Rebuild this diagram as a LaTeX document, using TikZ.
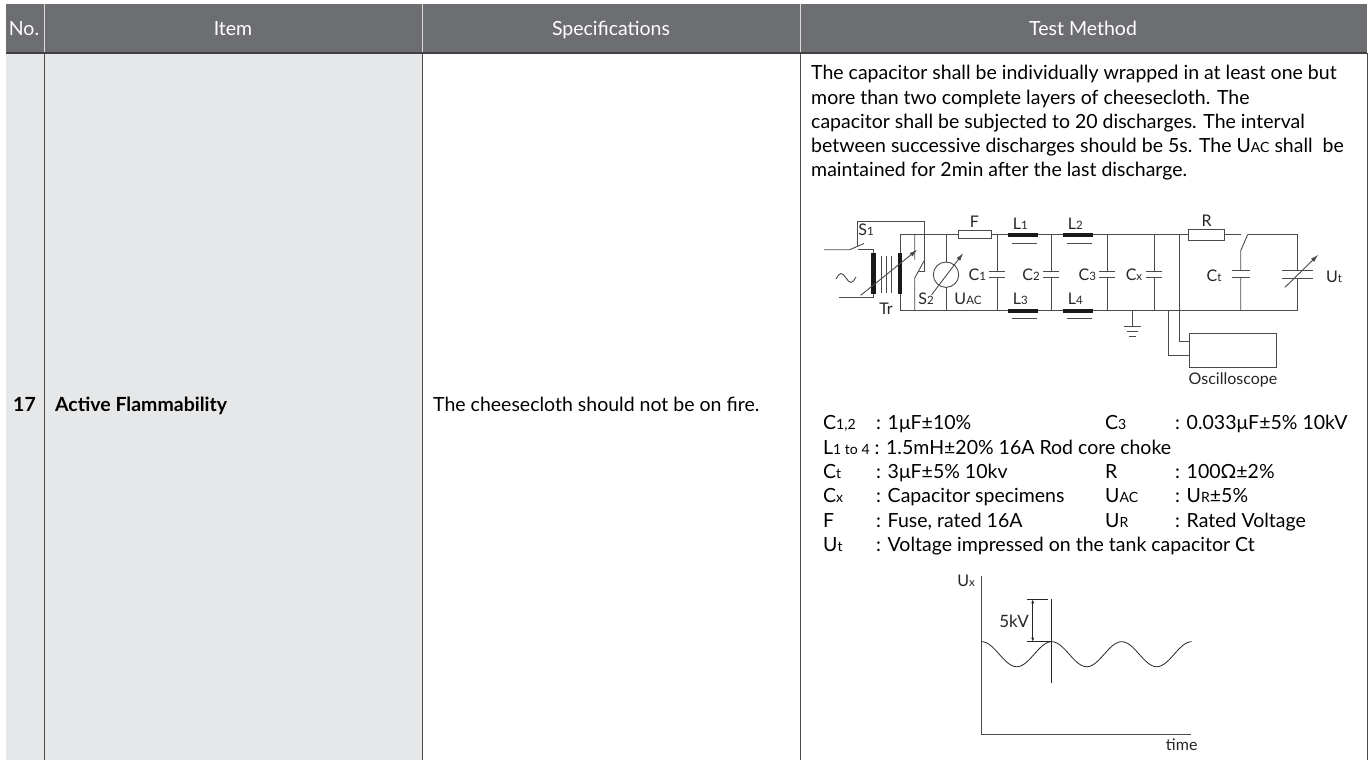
\documentclass[tikz,border=0pt]{standalone}
\usepackage{fontspec}
\setmainfont{Lato}
\usepackage{graphicx}
\usetikzlibrary{arrows.meta}
\definecolor{hdrgray}{HTML}{6D6E71}
\definecolor{cellgray}{HTML}{E6E7E8}
\definecolor{wirecol}{HTML}{4A4A4A}
\newcommand{\lo}[1]{\scalebox{0.72}{#1}}
\tikzset{
  hdr/.style={text=white,font=\fontsize{19.5}{23}\selectfont,inner sep=0pt,anchor=base},
  body/.style={font=\fontsize{19.5}{23}\selectfont,inner sep=0pt,anchor=base west},
  bodyb/.style={font=\fontsize{19.5}{23}\selectfont\bfseries,inner sep=0pt,anchor=base west},
  lbl/.style={font=\fontsize{16}{19}\selectfont,inner sep=0pt,text=black!85},
  leg/.style={font=\fontsize{19.5}{23}\selectfont,inner sep=0pt,anchor=base west},
  wire/.style={draw=wirecol,line width=0.9pt},
  plate/.style={draw=wirecol,line width=1.2pt},
  bar/.style={fill=black!90},
  tip/.style={-{Latex[length=8pt,width=4.5pt]}},
}
\begin{document}
\begin{tikzpicture}[x=1pt,y=-1pt]
\useasboundingbox (0,0) rectangle (1370,760);
% table
\fill[white] (0,0) rectangle (1370,760);
\fill[cellgray] (6,53) rectangle (422,760);
\fill[hdrgray] (6,4) rectangle (1367,53);
\draw[white!75!hdrgray,line width=1pt] (44,4) -- (44,53) (422,4) -- (422,53) (800,4) -- (800,53);
\draw[black!75,line width=1.2pt] (6,53) -- (1367,53);
\draw[black!70,line width=1pt] (44,53) -- (44,760) (422,53) -- (422,760)
  (800,53) -- (800,760) (1367,53) -- (1367,760);
\node[hdr] (hno) at (24,36) {No.};
\node[hdr] (hitem) at (233,36) {Item};
\node[hdr] (hspec) at (611,36) {Specifications};
\node[hdr] (htest) at (1083,36) {Test Method};
\node[bodyb] (no) at (13,411) {17};
\node[bodyb] (item) at (55,411) {Active Flammability};
\node[body] (spec) at (433,411) {The cheesecloth should not be on fire.};
% test method text
\node[body] (p1) at (811,80) {The capacitor shall be individually wrapped in at least one but};
\node[body] (p2) at (811,104) {more than two complete layers of cheesecloth. The};
\node[body] (p3) at (811,128) {capacitor shall be subjected to 20 discharges. The interval};
\node[body] (p4) at (811,152) {between successive discharges should be 5s. The U\lo{AC} shall~ be};
\node[body] (p5) at (811,176) {maintained for 2min after the last discharge.};
% circuit: buses
\draw[wire] (900,310.7) -- (900,234.5) -- (958.3,234.5);
\draw[wire] (991,234.5) -- (1188.3,234.5);
\draw[wire] (1224.3,234.5) -- (1240.7,234.5);
\draw[wire] (1247.7,234.5) -- (1297.7,234.5) -- (1297.7,270.7);
\draw[wire] (1297.7,278.7) -- (1297.7,310.7) -- (900,310.7);
% source, S1 and transformer
\draw[wire] (824,249.7) -- (849.7,249.7) -- (864,243.5);
\draw[wire] (858,249.7) -- (873.5,249.7) -- (873.5,253);
\draw[wire] (839,297.5) -- (873.5,297.5) -- (873.5,294);
\draw[wire] (836,279) sin (841,273.5) cos (846,278) sin (851,282.5) cos (856,277);
\draw[wire] (857.3,246) -- (857.3,221.3) -- (924.7,221.3) -- (924.7,271.3) -- (918.5,271.3);
\fill[bar] (871.3,253) rectangle (875.7,294);
\fill[bar] (897.8,253) rectangle (902.2,294);
\draw[wire,line width=0.7pt] (881.5,256) -- (881.5,293) (886.5,256) -- (886.5,293) (891.5,256) -- (891.5,293);
\draw[wire,tip] (860.7,295.3) -- (917.3,249.7);
\draw[wire] (914.7,234.5) -- (914.7,259.7) (914.7,310.7) -- (914.7,278) -- (924,261);
\node[lbl] (s1) at (866,230) {S\lo{1}};
\node[lbl] (tr) at (886,309) {Tr};
\node[lbl] (s2) at (926,299) {S\lo{2}};
% voltmeter and fuse
\draw[wire] (946,234.5) -- (946,262) (946,287.4) -- (946,310.7);
\draw[wire] (946,274.7) circle (12.7);
\draw[wire,tip] (931.7,294.7) -- (963.3,253);
\node[lbl] (uac) at (968,299) {U\lo{AC}};
\draw[wire,fill=white] (958.3,230.7) rectangle (991,238.7);
\node[lbl] (f) at (974.5,222) {F};
% chokes
\foreach \x/\a/\b in {1008.3/L\lo{1}/L\lo{3},1063.3/L\lo{2}/L\lo{4}} {
  \fill[bar] (\x,232.5) rectangle +(29.5,4.2);
  \fill[bar] (\x,308.6) rectangle +(29.5,4.2);
  \draw[wire] (\x+3.4,243) -- +(25,0) (\x+3.4,318.5) -- +(25,0);
  \node[lbl] at (\x+12,223.5) {\a};
  \node[lbl] at (\x+12,298.5) {\b};
}
% capacitors
\foreach \x/\c in {997.3/C\lo{1},1051/C\lo{2},1107.3/C\lo{3},1154/C\lo{x}} {
  \draw[wire] (\x,234.5) -- (\x,271.3) (\x,277.3) -- (\x,310.7);
  \draw[plate] (\x-8,271.3) -- (\x+8,271.3) (\x-8,277.3) -- (\x+8,277.3);
  \node[lbl] at (\x-20,274.5) {\c};
}
% ground
\draw[wire] (1132.5,310.7) -- (1132.5,326.7);
\draw[wire] (1124.2,326.7) -- (1140.8,326.7) (1126.8,331.5) -- (1138.2,331.5) (1129.3,336) -- (1135.7,336);
% oscilloscope
\node[draw=wirecol,line width=0.9pt,minimum width=87.4pt,minimum height=34.4pt,inner sep=0pt] (scope) at (1233,350.5) {};
\node[lbl] (scopelbl) at (1233,380) {Oscilloscope};
\draw[wire] (1179.3,234.5) |- ([yshift=8.8pt]scope.west);
\draw[wire] (1168.3,310.7) |- ([yshift=-4.5pt]scope.west);
% R, switch, tank capacitor
\draw[wire,fill=white] (1188.3,229.7) rectangle (1224.3,240.7);
\node[lbl] (r) at (1206.5,221) {R};
\draw[wire] (1247.7,234.5) -- (1240.7,250.7) -- (1240.7,270.7) (1240.7,277.3) -- (1240.7,310.7);
\draw[plate] (1231.7,270.7) -- (1249.7,270.7) (1231.7,277.3) -- (1249.7,277.3);
\node[lbl] (ct) at (1214,276) {C\lo{t}};
\draw[plate] (1282.3,270.7) -- (1313.3,270.7) (1282.3,278.7) -- (1313.3,278.7);
\draw[wire,tip] (1285,287.3) -- (1318.3,254.7);
\node[lbl] (ut) at (1334,277) {U\lo{t}};
% legend
\node[leg] (k1) at (823,429.5) {C\lo{1,2}};
\node[leg] (v1) at (876,429.5) {: 1μF±10\%};
\node[leg] (k2) at (1105,429.5) {C\lo{3}};
\node[leg] (v2) at (1175,429.5) {: 0.033μF±5\% 10kV};
\node[leg] (k3) at (823,454) {L\lo{1 to 4} : 1.5mH±20\% 16A Rod core choke};
\node[leg] (k4) at (823,478) {C\lo{t}};
\node[leg] (v4) at (876,478) {: 3μF±5\% 10kv};
\node[leg] (k5) at (1105,478) {R};
\node[leg] (v5) at (1175,478) {: 100Ω±2\%};
\node[leg] (k6) at (823,502) {C\lo{x}};
\node[leg] (v6) at (876,502) {: Capacitor specimens};
\node[leg] (k7) at (1105,502) {U\lo{AC}};
\node[leg] (v7) at (1175,502) {: U\lo{R}±5\%};
\node[leg] (k8) at (823,527) {F};
\node[leg] (v8) at (876,527) {: Fuse, rated 16A};
\node[leg] (k9) at (1105,527) {U\lo{R}};
\node[leg] (v9) at (1175,527) {: Rated Voltage};
\node[leg] (k10) at (823,551) {U\lo{t}};
\node[leg] (v10) at (876,551) {: Voltage impressed on the tank capacitor Ct};
% waveform
\draw[wire] (981.7,576) -- (981.7,734) -- (1190.7,734);
\node[lbl] (ux) at (966,581) {U\lo{x}};
\node[lbl] (time) at (1181.7,745) {time};
\draw[black!85,line width=0.8pt] plot[domain=0:210,samples=150] ({981.7+\x},{654.2-12.5*cos(\x*5.142857)});
\draw[black!85,line width=0.8pt] (1051.7,599.3) -- (1051.7,682.7);
\draw[black!85,line width=0.8pt] (1026.7,599.3) -- (1048.3,599.3) (1026.7,641.7) -- (1051.7,641.7);
\draw[black!85,line width=0.7pt,{Latex[length=4pt,width=3pt]}-{Latex[length=4pt,width=3pt]}] (1032.7,599.3) -- (1032.7,641.7);
\node[lbl,font=\fontsize{17}{20}\selectfont] (kv) at (1014,621) {5kV};
\end{tikzpicture}
\end{document}
